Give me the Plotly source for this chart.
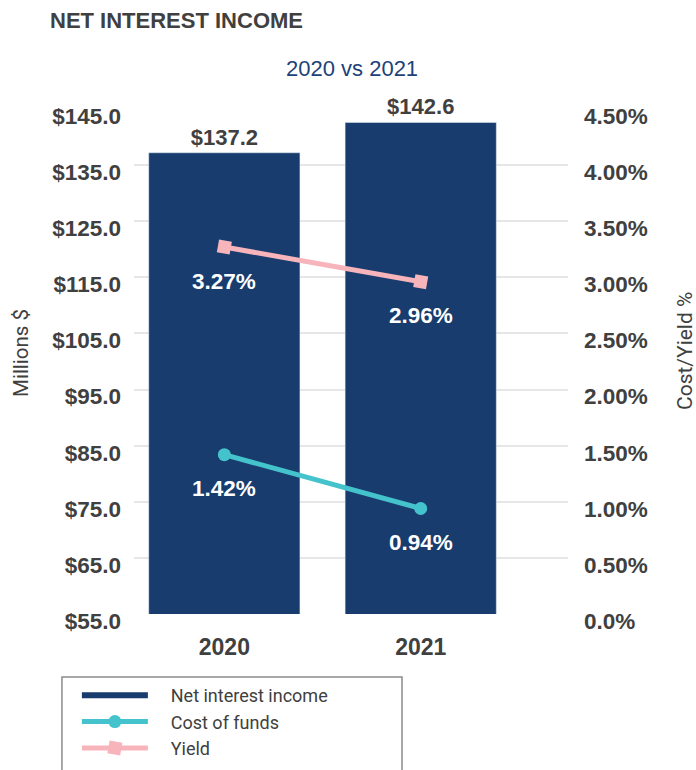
import plotly.graph_objects as go

years = ["2020", "2021"]
net_interest_income = [137.2, 142.6]
cost_of_funds = [1.42, 0.94]
yield_pct = [3.27, 2.96]

left_ticks = [55, 65, 75, 85, 95, 105, 115, 125, 135, 145]
left_ticktext = ["$55.0", "$65.0", "$75.0", "$85.0", "$95.0", "$105.0", "$115.0", "$125.0", "$135.0", "$145.0"]
right_ticks = [0, 0.5, 1.0, 1.5, 2.0, 2.5, 3.0, 3.5, 4.0, 4.5]
right_ticktext = ["0.0%", "0.50%", "1.00%", "1.50%", "2.00%", "2.50%", "3.00%", "3.50%", "4.00%", "4.50%"]

NAVY = "#173c6d"
TEAL = "#45c3cc"
PINK = "#f8b4bb"
GREY = "#404040"
FONT = "Liberation Sans, Arial, sans-serif"
LIGHT_FONT = "Roboto, sans-serif"
GAP = "\u00a0" * 4

# the original is cut off at the bottom (legend box runs out of the window),
# so the figure is a bit taller than the 770px window
W, H = 696, 790

fig = go.Figure()

fig.add_trace(go.Bar(
    x=years, y=net_interest_income, marker_color=NAVY, width=0.77,
    text=[f"<b>${v:.1f}</b>" for v in net_interest_income], textposition="outside",
    textfont=dict(family=FONT, size=22, color=GREY),
    cliponaxis=False, showlegend=False, name="Net interest income",
))
# legend entry drawn as a line, like the original
fig.add_trace(go.Scatter(
    x=[None], y=[None], mode="lines", name=GAP + "Net interest income",
    line=dict(color=NAVY, width=6),
))
fig.add_trace(go.Scatter(
    x=years, y=cost_of_funds, yaxis="y2", mode="lines+markers", name=GAP + "Cost of funds",
    line=dict(color=TEAL, width=5), marker=dict(symbol="circle", size=13, color=TEAL),
))
fig.add_trace(go.Scatter(
    x=years, y=yield_pct, yaxis="y2", mode="lines+markers", name=GAP + "Yield",
    line=dict(color=PINK, width=5), marker=dict(symbol="square", size=13, color=PINK, angle=10),
))

# value labels under the line points (category index used, "2020" would be read as an index)
for series in (cost_of_funds, yield_pct):
    for i, v in enumerate(series):
        fig.add_annotation(
            x=i, y=v, xref="x", yref="y2", text=f"<b>{v:.2f}%</b>", showarrow=False,
            yshift=-34, yanchor="middle", font=dict(family=FONT, size=22.5, color="white"),
        )

fig.add_annotation(
    x=0.502, y=1.081, xref="paper", yref="paper", text="2020 vs 2021", showarrow=False,
    yanchor="middle", font=dict(family=FONT, size=22, color="#1d4279"),
)

# axis titles as annotations, they sit a little above the middle in the original
fig.add_annotation(
    x=-0.2604, y=0.5168, xref="paper", yref="paper", text="Millions $", textangle=-90,
    showarrow=False, xanchor="center", yanchor="middle",
    font=dict(family=LIGHT_FONT, size=20.5, color=GREY),
)
fig.add_annotation(
    x=1.2696, y=0.5208, xref="paper", yref="paper", text="Cost/Yield %", textangle=-90,
    showarrow=False, xanchor="center", yanchor="middle",
    font=dict(family=LIGHT_FONT, size=21, color=GREY),
)

# legend frame
fig.add_shape(
    type="rect", xref="paper", yref="paper", x0=-0.166, x1=0.6175, y0=-0.1248, y1=-0.40,
    line=dict(color="#8c8c8c", width=1.5), fillcolor="rgba(0,0,0,0)",
)

fig.update_layout(
    width=W, height=H,
    margin=dict(l=134, r=128, t=109, b=H - 614),
    plot_bgcolor="white", paper_bgcolor="white",
    font=dict(family=FONT, color=GREY),
    title=dict(
        text="<b>NET INTEREST INCOME</b>", xref="container", yref="container",
        x=50 / W, xanchor="left", y=1 - 20 / H, yanchor="middle",
        font=dict(family=FONT, size=22, color=GREY),
    ),
    xaxis=dict(
        type="category", range=[-0.46, 1.75], showgrid=False, zeroline=False,
        tickfont=dict(family=FONT, size=23, color=GREY, weight="bold"),
        ticklabelstandoff=17, automargin=False,
    ),
    yaxis=dict(
        range=[55, 145], tickvals=left_ticks, ticktext=left_ticktext,
        gridcolor="#e6e6e6", gridwidth=1.5, zeroline=False, automargin=False,
        tickfont=dict(family=FONT, size=22.5, color=GREY, weight="bold"),
        ticklabelshift=7, ticklabelstandoff=12,
    ),
    yaxis2=dict(
        overlaying="y", side="right", range=[0, 4.5], tickvals=right_ticks, ticktext=right_ticktext,
        showgrid=False, zeroline=False, automargin=False,
        tickfont=dict(family=FONT, size=22.5, color=GREY, weight="bold"),
        ticklabelshift=7, ticklabelstandoff=15,
    ),
    legend=dict(
        x=-0.1316, y=-0.1248, xanchor="left", yanchor="top", orientation="v",
        font=dict(family=LIGHT_FONT, size=18, color=GREY),
        bgcolor="rgba(0,0,0,0)", itemwidth=66,
    ),
    showlegend=True,
)

# no page margin / scrollbars so the figure starts at the window corner
fig.write_html(
    "out.html",
    config={"displayModeBar": False},
    post_script="document.body.style.margin='0';document.body.style.overflow='hidden';",
)
